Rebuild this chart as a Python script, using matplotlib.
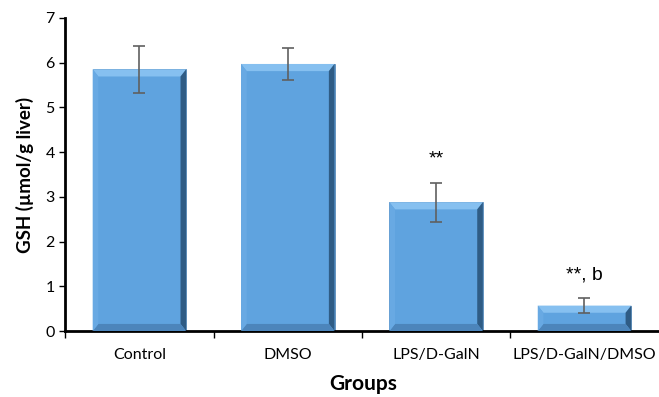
import matplotlib
matplotlib.use('Agg')
import matplotlib.pyplot as plt
from matplotlib.patches import Polygon

# data
groups = ['Control', 'DMSO', 'LPS/D-GalN', 'LPS/D-GalN/DMSO']
gsh = [5.85, 5.97, 2.88, 0.57]
sd = [0.52, 0.35, 0.44, 0.17]
marks = ['', '', '**', '**, b']

plt.rcParams['font.family'] = ['Lato', 'DejaVu Sans']

fig = plt.figure(figsize=(6.59, 3.97), dpi=100)
ax = fig.add_axes([0.099, 0.166, 0.905, 0.789])

x = list(range(len(groups)))
bars = ax.bar(x, gsh, width=0.63, color='#5fa3df', edgecolor='#4a7eae',
              linewidth=0.5, zorder=2)
ax.errorbar(x, gsh, yerr=sd, fmt='none', ecolor='#606060', elinewidth=1.2,
            capsize=4, capthick=1.2, zorder=4)

# bevel look on the bars
bx, by = 0.038, 0.16
for b in bars:
    x0, y0 = b.get_x(), b.get_y()
    x1, y1 = x0 + b.get_width(), y0 + b.get_height()
    faces = [
        ([(x0, y1), (x1, y1), (x1 - bx, y1 - by), (x0 + bx, y1 - by)], '#86c0f0'),
        ([(x1, y1), (x1, y0), (x1 - bx, y0 + by), (x1 - bx, y1 - by)], '#2f5c85'),
        ([(x0, y0), (x1, y0), (x1 - bx, y0 + by), (x0 + bx, y0 + by)], '#4c85bb'),
        ([(x0, y0), (x0, y1), (x0 + bx, y1 - by), (x0 + bx, y0 + by)], '#68a9e3'),
    ]
    for pts, c in faces:
        ax.add_patch(Polygon(pts, closed=True, facecolor=c, edgecolor='none', zorder=3))

for xi, v, e, m in zip(x, gsh, sd, marks):
    if m:
        ax.text(xi, v + e + 0.33, m, ha='center', va='bottom', fontsize=14,
                family=['Liberation Sans', 'DejaVu Sans'])

ax.set_xlim(-0.5, 3.52)
ax.set_ylim(0, 7)
ax.set_yticks(range(8))
ax.set_xticks([-0.5, 0.5, 1.5, 2.5])
ax.set_xticklabels([])
ax.set_xticks(x, minor=True)
ax.set_xticklabels(groups, minor=True, fontsize=11.5)
ax.tick_params(axis='x', which='minor', length=0, pad=12)
ax.tick_params(axis='x', which='major', length=5, width=1, direction='out')
ax.tick_params(axis='y', length=4, width=1, direction='out', labelsize=11.5)

for s in ['top', 'right']:
    ax.spines[s].set_visible(False)
ax.spines['left'].set_linewidth(2)
ax.spines['bottom'].set_linewidth(2)

ax.set_ylabel('GSH (µmol/g liver)', fontsize=13.5, fontweight='bold', labelpad=8)
ax.set_xlabel('Groups', fontsize=15, fontweight='bold', labelpad=9)

fig.savefig('out.png', dpi=100)
